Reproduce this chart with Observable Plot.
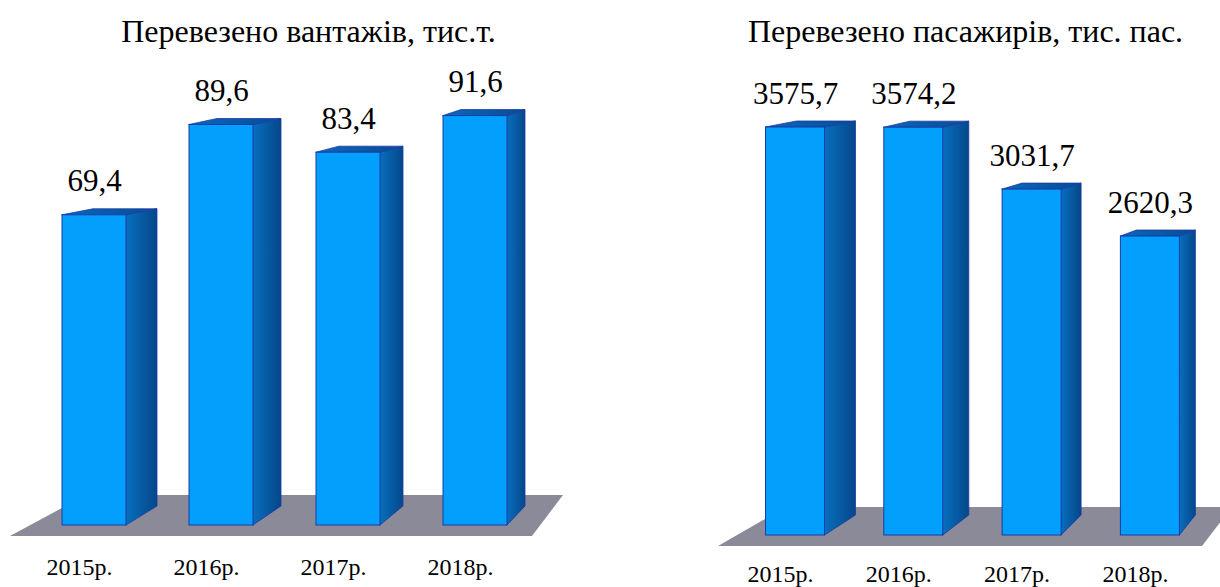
<!DOCTYPE html>
<html><head><meta charset="utf-8">
<script src="https://cdn.jsdelivr.net/npm/d3@7"></script>
<script src="https://cdn.jsdelivr.net/npm/@observablehq/plot@0.6"></script>
<style>
body{margin:0;background:#fff;width:1220px;height:587px;overflow:hidden;position:relative}
.panel{position:absolute;top:0;width:610px;height:587px}
.panel svg text{font-family:"Liberation Serif","Times New Roman",serif !important}
</style></head><body>
<div id="left" class="panel" style="left:0"></div>
<div id="right" class="panel" style="left:610px"></div>
<script>
const years = ["2015р.", "2016р.", "2017р.", "2018р."];
const cargo = [69.4, 89.6, 83.4, 91.6];
const passengers = [3575.7, 3574.2, 3031.7, 2620.3];
const cargoTitle = "Перевезено вантажів, тис.т.";
const passengersTitle = "Перевезено пасажирів, тис. пас.";

const fmt = v => v.toFixed(1).replace(".", ",");
const FONT = "Liberation Serif";

function chart(id, values, title, L) {
  const W = 610, H = 587;
  const ux = px => px / L.step, uy = px => px / L.k;
  const xd = [ux(-L.x0), ux(W - L.x0)];
  const yd = [uy(L.zeroY - H), uy(L.zeroY)];
  const rows = values.map((v, i) => ({
    i, year: years[i], v, label: fmt(v),
    xl: i - ux(L.half), xr: i + ux(L.half), d: ux(L.sides[i])
  }));
  const side = rows.flatMap(r => [
    {z: r.i, x: r.xr, y1: 0, y2: r.v},
    {z: r.i, x: r.xr + r.d, y1: uy(L.botDy), y2: r.v + uy(L.topDy)}
  ]);
  const top = rows.flatMap(r => [
    {z: r.i, y: r.v, x1: r.xl, x2: r.xr},
    {z: r.i, y: r.v + uy(L.topDy), x1: r.xl + r.d, x2: r.xr + r.d}
  ]);
  const f = L.floor;
  const floor = [
    {y: uy(L.zeroY - f.bottom), x1: ux(f.bl - L.x0), x2: ux(f.br - L.x0)},
    {y: uy(L.zeroY - f.top), x1: ux(f.tl - L.x0), x2: ux(f.tr - L.x0)}
  ];
  const svg = Plot.plot({
    width: W, height: H, margin: 0,
    x: {domain: xd, axis: null},
    y: {domain: yd, axis: null},
    style: {background: "white"},
    marks: [
      Plot.areaX(floor, {y: "y", x1: "x1", x2: "x2", fill: "#8b8a99"}),
      Plot.areaY(side, {x: "x", y1: "y1", y2: "y2", z: "z", fill: `url(#${id}side)`, stroke: "#1c3aa8", strokeWidth: 0.8}),
      Plot.areaX(top, {y: "y", x1: "x1", x2: "x2", z: "z", fill: `url(#${id}top)`, stroke: "#1c3aa8", strokeWidth: 0.8}),
      Plot.rectY(rows, {x1: "xl", x2: "xr", y1: 0, y2: "v", fill: "#039ffc", stroke: "#1c3aa8", strokeWidth: 1}),
      Plot.text(rows, {x: "i", y: "v", text: "label", lineAnchor: "bottom", dy: -L.labelDy, fontSize: 31, fontFamily: FONT, fill: "black"}),
      Plot.text(rows, {x: "i", text: "year", frameAnchor: "bottom", lineAnchor: "middle", dy: L.yearDy, dx: -15, fontSize: 24, fontFamily: FONT, fill: "black"}),
      Plot.text([title], {frameAnchor: "top", lineAnchor: "top", dy: 19, dx: L.titleDx, fontSize: 32, fontFamily: FONT, fill: "black"})
    ]
  });
  const defs = d3.select(svg).insert("defs", ":first-child");
  const g1 = defs.append("linearGradient").attr("id", id + "side").attr("x1", 0).attr("x2", 1).attr("y1", 0).attr("y2", 0);
  g1.append("stop").attr("offset", 0).attr("stop-color", "#086fbd");
  g1.append("stop").attr("offset", 1).attr("stop-color", "#05478a");
  const g2 = defs.append("linearGradient").attr("id", id + "top").attr("x1", 0).attr("x2", 1).attr("y1", 0).attr("y2", 0);
  g2.append("stop").attr("offset", 0).attr("stop-color", "#0b68ba");
  g2.append("stop").attr("offset", 1).attr("stop-color", "#074c95");
  document.getElementById(id).appendChild(svg);
}

chart("left", cargo, cargoTitle, {
  x0: 94, step: 127, half: 32, zeroY: 525, k: 4.47,
  sides: [31, 28, 23, 18], topDy: 6, botDy: 19,
  floor: {bottom: 536, top: 495, bl: 10, br: 532, tl: 86, tr: 563},
  labelDy: 24, yearDy: -20, titleDx: 3
});
chart("right", passengers, passengersTitle, {
  x0: 185, step: 118.3, half: 29.5, zeroY: 535, k: 0.1141,
  sides: [31, 26, 20, 16], topDy: 6, botDy: 20,
  floor: {bottom: 546, top: 507, bl: 108, br: 592, tl: 176, tr: 622},
  labelDy: 24, yearDy: -13, titleDx: 50
});
</script>
</body></html>
